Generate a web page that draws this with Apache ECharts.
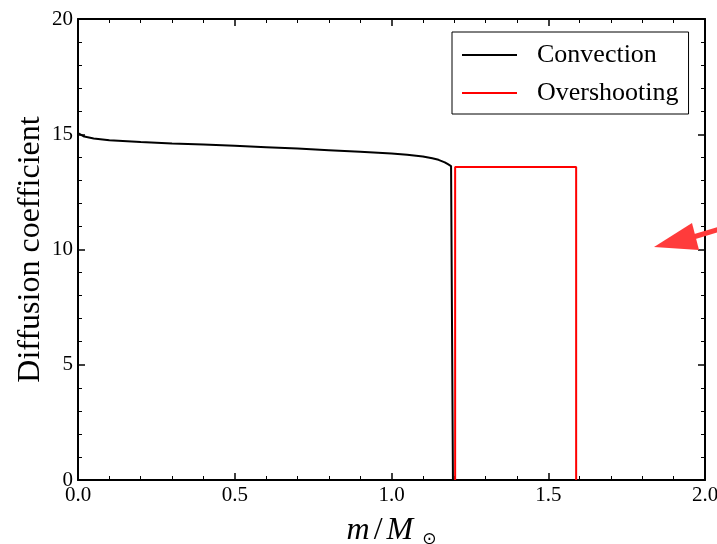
<!DOCTYPE html>
<html><head><meta charset="utf-8">
<script src="https://cdn.jsdelivr.net/npm/echarts@6/dist/echarts.min.js"></script>
<style>html,body{margin:0;padding:0;background:#fff;overflow:hidden}#c{width:717px;height:544px}</style>
</head><body><div id="c"></div>
<script>
// Convection diffusion coefficient profile (m/Msun, D)
const convX = [0.0, 0.005, 0.02, 0.05, 0.1, 0.2, 0.3, 0.4, 0.5, 0.6, 0.7, 0.8, 0.9, 1.0, 1.05, 1.1, 1.13, 1.15, 1.17, 1.18, 1.19, 1.196, 1.196];
const convY = [15.05, 14.98, 14.9, 14.82, 14.74, 14.66, 14.6, 14.55, 14.5, 14.44, 14.38, 14.31, 14.24, 14.16, 14.11, 14.03, 13.96, 13.89, 13.78, 13.7, 13.62, 13.58, 0];
// Overshooting region
const overX = [1.203, 1.203, 1.589, 1.589];
const overY = [0, 13.58, 13.58, 0];
const xTicks = [0.0, 0.5, 1.0, 1.5, 2.0];
const yTicks = [0, 5, 10, 15, 20];

const serif = 'Liberation Serif';
const chart = echarts.init(document.getElementById('c'), null, {width: 717, height: 544});
const axisCommon = {
  axisLine: {show: true, onZero: false, lineStyle: {color: '#000', width: 2}},
  axisTick: {show: true, inside: true, length: 7, lineStyle: {color: '#000', width: 1.5}},
  minorTick: {show: true, splitNumber: 5, length: 4, lineStyle: {color: '#000', width: 1}},
  splitLine: {show: false}
};
chart.setOption({
  animation: false,
  backgroundColor: '#fff',
  grid: {left: 78, right: 12, top: 19, bottom: 64, containLabel: false, outerBoundsMode: 'none'},
  legend: {
    orient: 'vertical', left: 452, top: 32,
    padding: [10, 10, 8, 10],
    borderColor: '#000', borderWidth: 1, borderRadius: 0,
    itemWidth: 55, itemHeight: 2, itemGap: 12,
    icon: 'rect',
    textStyle: {fontFamily: serif, fontSize: 26, color: '#000', padding: [0, 0, 0, 15]},
    data: ['Convection', 'Overshooting']
  },
  xAxis: [
    Object.assign({}, axisCommon, {
      type: 'value', min: 0, max: 2, interval: 0.5, position: 'bottom',
      name: '{i|m}{n|/}{i|M}{s|⊙}', nameLocation: 'middle', nameGap: 33, nameMoveOverlap: false,
      nameTextStyle: {rich: {
        i: {fontFamily: serif, fontStyle: 'italic', fontSize: 32, color: '#000'},
        n: {fontFamily: serif, fontSize: 32, color: '#000', padding: [0, 4, 0, 4]},
        s: {fontFamily: 'DejaVu Sans', fontSize: 17, color: '#000', padding: [18, 0, 0, 9]}
      }},
      axisLabel: {fontFamily: serif, fontSize: 21, color: '#000', margin: 5,
        formatter: v => xTicks.indexOf(v) >= 0 ? v.toFixed(1) : ''}
    }),
    Object.assign({}, axisCommon, {
      type: 'value', min: 0, max: 2, interval: 0.5, position: 'top',
      axisLabel: {show: false}
    })
  ],
  yAxis: [
    Object.assign({}, axisCommon, {
      type: 'value', min: 0, max: 20, interval: 5, position: 'left',
      name: 'Diffusion coefficient', nameLocation: 'middle', nameGap: 31, nameRotate: 90, nameMoveOverlap: false,
      nameTextStyle: {fontFamily: serif, fontSize: 32, color: '#000'},
      axisLabel: {fontFamily: serif, fontSize: 21, color: '#000', margin: 5,
        formatter: v => yTicks.indexOf(v) >= 0 ? String(v) : ''}
    }),
    Object.assign({}, axisCommon, {
      type: 'value', min: 0, max: 20, interval: 5, position: 'right',
      axisLabel: {show: false}
    })
  ],
  series: [
    {name: 'Convection', type: 'line', showSymbol: false, smooth: false,
     color: '#000', lineStyle: {color: '#000', width: 2},
     data: convX.map((x, i) => [x, convY[i]])},
    {name: 'Overshooting', type: 'line', showSymbol: false,
     color: '#ff0000', lineStyle: {color: '#ff0000', width: 2},
     data: overX.map((x, i) => [x, overY[i]])}
  ],
  graphic: [
    {type: 'line', shape: {x1: 720, y1: 229, x2: 690, y2: 238}, style: {stroke: '#ff3b3b', lineWidth: 5}, z: 100},
    {type: 'polygon', shape: {points: [[654, 247], [692, 223], [699, 250]]}, style: {fill: '#ff3b3b'}, z: 100}
  ]
});
</script></body></html>
